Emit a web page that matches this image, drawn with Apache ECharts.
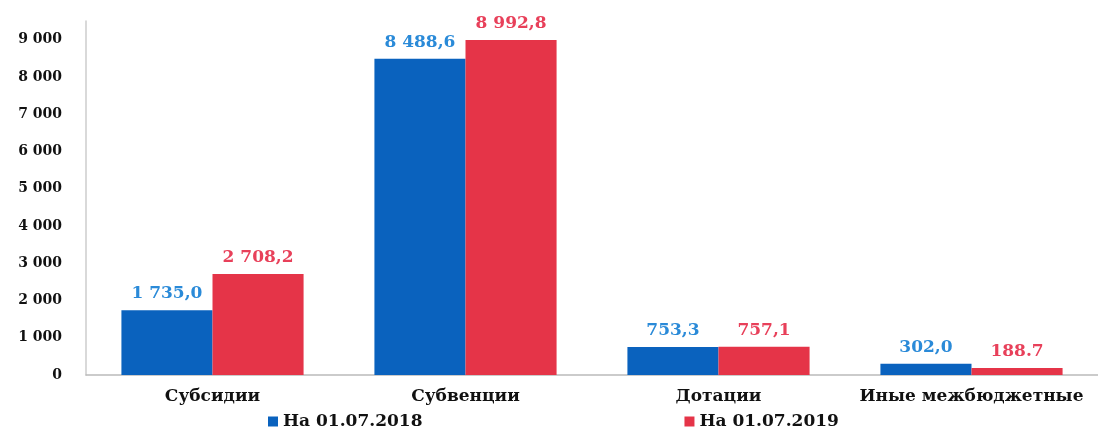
<!DOCTYPE html>
<html>
<head>
<meta charset="utf-8">
<script src="https://cdn.jsdelivr.net/npm/echarts@6/dist/echarts.min.js"></script>
<style>
    html, body { margin: 0; padding: 0; background: #fff; }
    #chart { width: 1098px; height: 435px; }
</style>
</head>
<body>
<div id="chart"></div>
<script>
const categories = ["Субсидии", "Субвенции", "Дотации", "Иные межбюджетные"]
const values2018 = [1735.0, 8488.6, 753.3, 302.0]
const values2019 = [2708.2, 8992.8, 757.1, 188.7]
const labels2018 = ["1 735,0", "8 488,6", "753,3", "302,0"]
const labels2019 = ["2 708,2", "8 992,8", "757,1", "188.7"]
const seriesNames = ["На 01.07.2018", "На 01.07.2019"]

const font = "DejaVu Serif"

function tickFormat(v) {
    if (v % 1000 !== 0) return ""
    return String(v).replace(/(\d)(?=(\d{3})+$)/g, "$1 ")
}

let myChart = echarts.init(document.getElementById("chart"))
myChart.setOption({
    animation: false,
    grid: { left: 86, right: -8, top: 21, bottom: 60 },
    legend: {
        data: seriesNames,
        bottom: 0,
        left: 263,
        itemGap: 262,
        itemWidth: 10,
        itemHeight: 10,
        icon: "rect",
        textStyle: { fontFamily: font, fontWeight: "bold", fontSize: 17, color: "#111" },
    },
    xAxis: {
        type: "category",
        data: categories,
        axisTick: { show: false },
        axisLine: { lineStyle: { color: "#bbb", width: 1.5 } },
        axisLabel: {
            fontFamily: font,
            fontWeight: "bold",
            fontSize: 17,
            color: "#111",
            margin: 13,
            interval: 0,
        },
    },
    yAxis: {
        type: "value",
        min: 0,
        max: 9500,
        interval: 500,
        splitLine: { show: false },
        axisTick: { show: false },
        axisLine: { show: true, lineStyle: { color: "#ccc", width: 1.5 } },
        axisLabel: {
            formatter: tickFormat,
            fontFamily: font,
            fontWeight: "bold",
            fontSize: 14,
            color: "#111",
            margin: 24,
        },
    },
    series: [
        {
            name: seriesNames[0],
            type: "bar",
            data: values2018,
            barGap: "0%",
            barCategoryGap: "28%",
            itemStyle: { color: "#0a62be" },
            label: {
                show: true,
                position: "top",
                distance: 8,
                formatter: (p) => labels2018[p.dataIndex],
                fontFamily: font,
                fontWeight: "bold",
                fontSize: 17,
                color: "#2a8ad8",
            },
        },
        {
            name: seriesNames[1],
            type: "bar",
            data: values2019,
            itemStyle: { color: "#e53448" },
            label: {
                show: true,
                position: "top",
                distance: 8,
                formatter: (p) => labels2019[p.dataIndex],
                fontFamily: font,
                fontWeight: "bold",
                fontSize: 17,
                color: "#e8405a",
            },
        },
    ],
})
</script>
</body>
</html>
